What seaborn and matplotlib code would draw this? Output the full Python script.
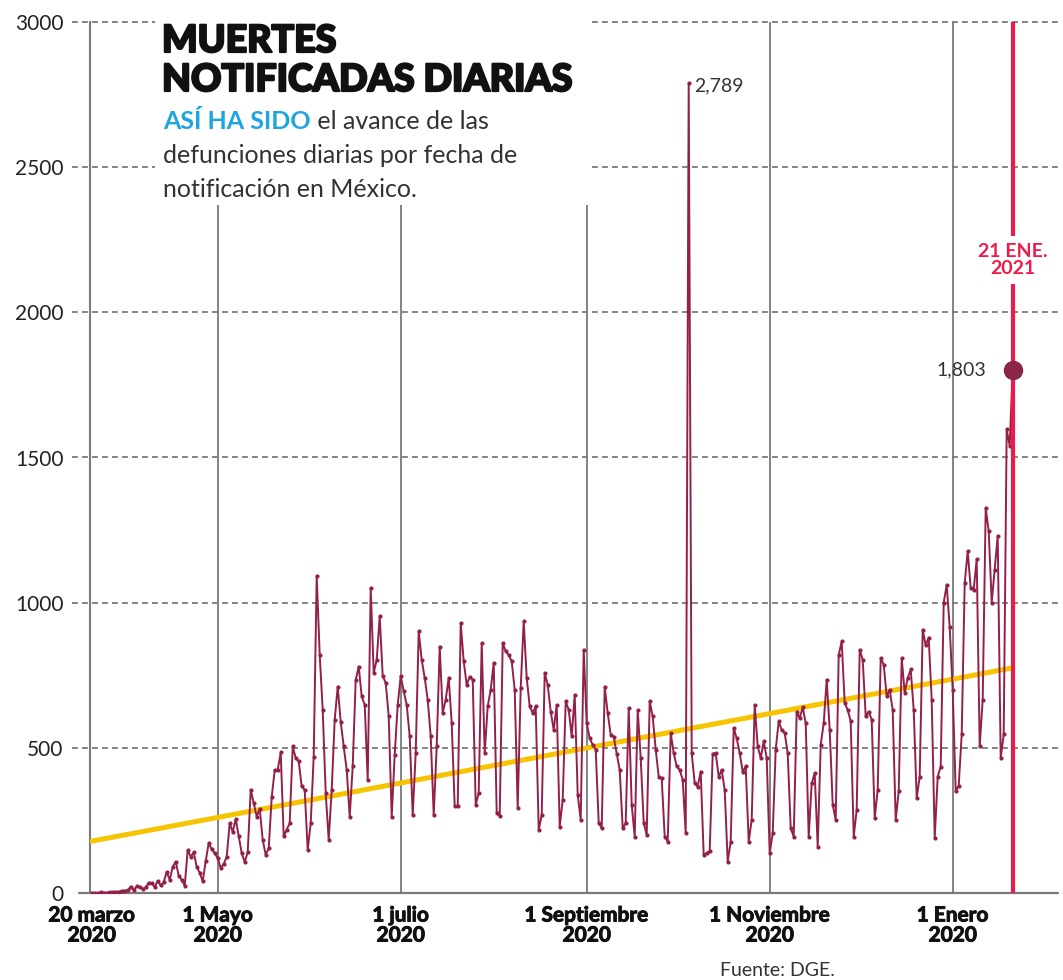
import numpy as np
import pandas as pd
import matplotlib
matplotlib.use("Agg")
import matplotlib.pyplot as plt
import matplotlib.patheffects as pe
import seaborn as sns
from matplotlib.patches import Rectangle

# ---------------- data ----------------
start_date = "2020-03-20"
deaths = [
    1, 0, 0, 2, 1, 1, 3, 4, 4, 4,
    8, 8, 9, 22, 10, 23, 19, 14, 19, 36,
    34, 20, 42, 26, 38, 73, 45, 90, 108, 60,
    45, 25, 148, 125, 140, 90, 70, 40, 110, 172,
    150, 137, 120, 86, 100, 125, 241, 210, 255, 195,
    137, 107, 140, 355, 310, 263, 290, 183, 131, 154,
    330, 424, 424, 484, 195, 218, 241, 505, 465, 453,
    367, 355, 148, 241, 470, 1092, 820, 631, 344, 183,
    355, 597, 711, 590, 505, 424, 263, 436, 734, 780,
    677, 648, 390, 1051, 758, 803, 953, 747, 724, 609,
    263, 476, 648, 747, 695, 648, 540, 269, 482, 901,
    803, 741, 666, 540, 269, 505, 849, 620, 666, 741,
    585, 298, 298, 930, 798, 717, 745, 735, 304, 345,
    861, 482, 643, 700, 792, 275, 264, 861, 832, 820,
    798, 700, 292, 706, 936, 741, 643, 620, 643, 217,
    269, 758, 717, 625, 562, 648, 229, 321, 660, 631,
    540, 683, 338, 252, 838, 585, 533, 510, 494, 241,
    223, 711, 620, 545, 539, 480, 424, 223, 241, 637,
    304, 194, 631, 465, 241, 200, 660, 608, 494, 401,
    395, 194, 177, 551, 482, 436, 424, 390, 206, 2789,
    482, 378, 366, 418, 131, 137, 145, 480, 482, 400,
    424, 355, 108, 177, 568, 533, 482, 418, 436, 177,
    252, 648, 505, 465, 522, 465, 137, 206, 494, 591,
    562, 551, 482, 223, 194, 625, 602, 640, 585, 194,
    378, 413, 160, 510, 585, 735, 562, 304, 252, 820,
    867, 654, 631, 591, 194, 287, 838, 804, 608, 625,
    597, 258, 355, 809, 787, 677, 700, 631, 252, 350,
    809, 690, 740, 770, 631, 327, 401, 907, 853, 880,
    666, 190, 401, 435, 1000, 1062, 915, 700, 350, 370,
    546, 1068, 1177, 1050, 1045, 1150, 505, 666, 1327, 1246,
    1000, 1114, 1230, 465, 546, 1597, 1540, 1803,
]
tick_dates = ["2020-03-20", "2020-05-01", "2020-07-01", "2020-09-01",
              "2020-11-01", "2021-01-01"]
tick_labels = ["20 marzo\n2020", "1 Mayo\n2020", "1 julio\n2020",
               "1 Septiembre\n2020", "1 Noviembre\n2020", "1 Enero\n2020"]
y_ticks = [0, 500, 1000, 1500, 2000, 2500, 3000]
peak_date, peak_label = "2020-10-05", "2,789"
last_date, last_label = "2021-01-21", "1,803"
marker_label = "21 ENE.\n2021"
title_lines = ["MUERTES", "NOTIFICADAS DIARIAS"]
sub_lead = "ASÍ HA SIDO"
sub_rest = [" el avance de las", "defunciones diarias por fecha de",
            "notificación en México."]
source = "Fuente: DGE."

# ---------------- frame ----------------
dates = pd.date_range(start_date, periods=len(deaths), freq="D")
t0 = pd.Timestamp(start_date)
df = pd.DataFrame({"day": (dates - t0).days, "deaths": deaths})
tick_days = [(pd.Timestamp(d) - t0).days for d in tick_dates]
peak_day = (pd.Timestamp(peak_date) - t0).days
last_day = (pd.Timestamp(last_date) - t0).days
peak_val = df.loc[df.day == peak_day, "deaths"].iloc[0]
last_val = df.loc[df.day == last_day, "deaths"].iloc[0]

sns.set_theme(style="white")
plt.rcParams["font.family"] = ["Lato", "DejaVu Sans"]

W, H = 1063, 980
fig = plt.figure(figsize=(W / 100, H / 100), dpi=100)
ax = fig.add_axes([90 / W, 87 / H, 968 / W, 871 / H])

LINE = "#931f4b"
GRID = "#6e6e6e"
RED = "#ee1a4a"
YEL = "#f6c400"
TXT = "#333333"

# grid
for yv in y_ticks[1:]:
    ax.axhline(yv, xmin=-0.019, xmax=1, color=GRID, lw=1.2,
               ls=(0, (3.5, 2.5)), clip_on=False, zorder=1)
ax.axhline(0, xmin=-0.011, xmax=1, color="#7a7a7a", lw=1.6,
           clip_on=False, zorder=1)
for d in tick_days[1:]:
    ax.axvline(d, color="#7a7a7a", lw=1.3, zorder=1)

# white box behind title
ax.add_patch(Rectangle((0.067, 0.79), 0.447, 0.25, transform=ax.transAxes,
                       fc="white", ec="none", zorder=2, clip_on=False))

# trend + series
sns.regplot(data=df, x="day", y="deaths", scatter=False, ci=None,
            truncate=True, color=YEL, line_kws=dict(lw=3.6, zorder=3),
            ax=ax)
sns.lineplot(data=df, x="day", y="deaths", color=LINE, lw=1.4,
             marker="o", markersize=3, markeredgewidth=0, zorder=4, ax=ax)

# highlight line / point
ax.axvline(last_day, color=RED, lw=3, zorder=5)
ax.plot([last_day], [last_val], "o", ms=13, color="#8a2647", zorder=6)
ax.annotate(last_label, (last_day, last_val), xytext=(-19, 0),
            textcoords="offset points", ha="right", va="center",
            fontsize=14, color=TXT, zorder=7)
ax.annotate(peak_label, (peak_day, peak_val), xytext=(4, -2),
            textcoords="offset points", ha="left", va="center",
            fontsize=14, color=TXT, zorder=7)
ax.text(last_day, 2180, marker_label, ha="center", va="center",
        fontsize=14, fontweight="bold", color=RED, linespacing=1.0,
        zorder=7, bbox=dict(fc="white", ec="none", pad=5))

# axes styling
ax.set_xlim(-0.57, 322.1)
ax.set_ylim(0, 3000)
ax.set_xticks(tick_days)
ax.set_xticklabels(tick_labels, fontsize=15, fontweight="bold",
                   linespacing=1.0, color="#111111")
for lab in ax.get_xticklabels():
    lab.set_path_effects([pe.withStroke(linewidth=0.7, foreground="#111111")])
ax.set_yticks(y_ticks)
ax.set_yticklabels([str(v) for v in y_ticks], fontsize=15, color="#222222")
ax.tick_params(axis="x", length=0, pad=9)
ax.tick_params(axis="y", length=0, pad=19)
ax.set_xlabel("")
ax.set_ylabel("")
for s in ["top", "right", "bottom"]:
    ax.spines[s].set_visible(False)
ax.spines["left"].set_color("#7a7a7a")
ax.spines["left"].set_linewidth(1.5)
ax.spines["left"].set_zorder(1)

# titles
heavy = [pe.withStroke(linewidth=1.6, foreground="#111111")]
fig.text(162 / W, 1 - 24 / H, title_lines[0], fontsize=27,
         fontweight="black", color="#111111", va="top", ha="left",
         path_effects=heavy)
fig.text(162 / W, 1 - 63 / H, title_lines[1], fontsize=27,
         fontweight="black", color="#111111", va="top", ha="left",
         path_effects=heavy)
lead = fig.text(163 / W, 1 - 129 / H, sub_lead, fontsize=18,
                fontweight="bold", color="#1ea5e0", va="baseline", ha="left")
fig.canvas.draw()
ax.annotate(sub_rest[0], xy=(1, 0), xycoords=lead, va="bottom", ha="left",
            fontsize=18, color=TXT, annotation_clip=False)
fig.text(163 / W, 1 - 163 / H, sub_rest[1], fontsize=18, color=TXT,
         va="baseline", ha="left")
fig.text(163 / W, 1 - 197 / H, sub_rest[2], fontsize=18, color=TXT,
         va="baseline", ha="left")

fig.text(777 / W, 1 - 962 / H, source, fontsize=14, color=TXT,
         ha="center", va="top")

fig.savefig("out.png", dpi=100, facecolor="white")
